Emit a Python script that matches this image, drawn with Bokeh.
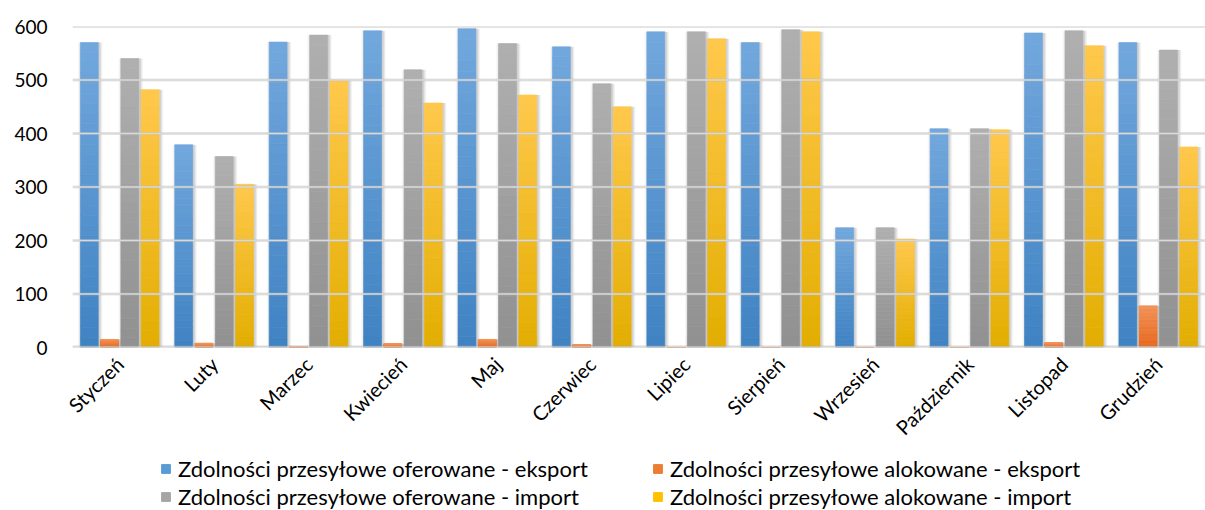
from bokeh.plotting import figure
from bokeh.layouts import column
from bokeh.models import (ColumnDataSource, FactorRange, Range1d, Legend, LegendItem,
                          FixedTicker, Span)
from bokeh.transform import dodge
from bokeh.embed import file_html
from bokeh.resources import INLINE
import math

months = ["Styczeń", "Luty", "Marzec", "Kwiecień", "Maj", "Czerwiec", "Lipiec",
          "Sierpień", "Wrzesień", "Październik", "Listopad", "Grudzień"]

offered_export = [570, 379, 571, 592, 596, 562, 590, 570, 224, 409, 588, 570]
allocated_export = [15, 8, 2, 7, 15, 5, 0, 0, 0, 0, 9, 78]
offered_import = [540, 357, 584, 519, 568, 493, 590, 594, 224, 409, 592, 556]
allocated_import = [482, 305, 500, 457, 472, 450, 577, 590, 203, 407, 564, 375]

y_ticks = [0, 100, 200, 300, 400, 500, 600]

labels = ["Zdolności przesyłowe oferowane - eksport",
          "Zdolności przesyłowe alokowane - eksport",
          "Zdolności przesyłowe oferowane - import",
          "Zdolności przesyłowe alokowane - import"]

# (bottom colour, top colour) of the vertical gradient on each series
gradients = [("#3f82c3", "#72a8dd"),
             ("#e8661a", "#f39257"),
             ("#909090", "#b0b0b0"),
             ("#e3ae00", "#ffc84c")]
legend_colors = ["#5b9bd5", "#ed7d31", "#a5a5a5", "#ffc000"]

series = [offered_export, allocated_export, offered_import, allocated_import]
offsets = [-0.322, -0.107, 0.107, 0.322]
BAR_W = 0.19
SLICES = 30
FONT = "Lato"


def mix(c0, c1, t):
    a = [int(c0[i:i + 2], 16) for i in (1, 3, 5)]
    b = [int(c1[i:i + 2], 16) for i in (1, 3, 5)]
    return "#%02x%02x%02x" % tuple(round(a[j] + (b[j] - a[j]) * t) for j in range(3))


p = figure(width=1205, height=450, output_backend="svg", toolbar_location=None,
           x_range=FactorRange(*months, range_padding=0),
           y_range=Range1d(0, 600),
           min_border_left=72, min_border_right=0, min_border_top=26,
           min_border_bottom=101)
p.outline_line_color = None
p.background_fill_color = "white"
p.border_fill_color = "white"

# grid lines with a soft shadow underneath
p.xgrid.grid_line_color = None
p.ygrid.grid_line_color = None
for t in y_ticks[1:]:
    p.add_layout(Span(location=t, dimension="width", line_color="#b8b8b8",
                      line_alpha=0.35, line_width=3))
    p.add_layout(Span(location=t, dimension="width", line_color="#d9d9d9",
                      line_width=1.5))

# soft drop shadows behind the bars
for s_idx, vals in enumerate(series):
    src = ColumnDataSource(dict(month=months, top=vals))
    for dx, extra, a in [(0.010, 0.07, 0.03), (0.012, 0.05, 0.04),
                         (0.014, 0.03, 0.05), (0.016, 0.01, 0.06)]:
        p.vbar(x=dodge("month", offsets[s_idx] + dx, range=p.x_range), top="top",
               bottom=0, width=BAR_W + extra, source=src, fill_color="black",
               fill_alpha=a, line_color=None)

for s_idx, vals in enumerate(series):
    c0, c1 = gradients[s_idx]
    xs, bots, tops, cols = [], [], [], []
    for m, v in zip(months, vals):
        for k in range(SLICES):
            xs.append(m)
            bots.append(v * k / SLICES)
            tops.append(v * (k + 1) / SLICES)
            cols.append(mix(c0, c1, (k + 0.5) / SLICES))
    src = ColumnDataSource(dict(month=xs, bottom=bots, top=tops, color=cols))
    p.vbar(x=dodge("month", offsets[s_idx], range=p.x_range), top="top",
           bottom="bottom", width=BAR_W, source=src, fill_color="color",
           line_color="color", line_width=0.6)

# baseline
p.add_layout(Span(location=0, dimension="width", line_color="#a0a0a0",
                  line_alpha=0.4, line_width=4))
p.add_layout(Span(location=0, dimension="width", line_color="#d9d9d9",
                  line_width=2))

p.yaxis.ticker = FixedTicker(ticks=y_ticks)
p.yaxis.axis_line_color = None
p.yaxis.major_tick_line_color = None
p.yaxis.minor_tick_line_color = None
p.yaxis.major_label_text_font = FONT
p.yaxis.major_label_text_font_size = "19px"
p.yaxis.major_label_text_color = "black"
p.yaxis.major_label_standoff = 19

p.xaxis.axis_line_color = None
p.xaxis.major_tick_line_color = None
p.xaxis.minor_tick_line_color = None
p.xaxis.major_label_orientation = math.pi / 4
p.xaxis.major_label_text_font = FONT
p.xaxis.major_label_text_font_size = "20px"
p.xaxis.major_label_text_color = "black"
p.xaxis.major_label_standoff = 7

# legend strip under the chart: two rows of two entries
# (positions are relative to the strip's frame, which lines up with the chart's frame)
lg_fig = figure(width=1205, height=60, output_backend="svg", toolbar_location=None,
                x_range=Range1d(0, 1), y_range=Range1d(0, 1),
                x_axis_location=None, y_axis_location=None,
                min_border_left=0, min_border_right=0, min_border_top=0,
                min_border_bottom=0)
lg_fig.outline_line_color = None
lg_fig.xgrid.grid_line_color = None
lg_fig.ygrid.grid_line_color = None

legend_pos = [(88, 28), (580, 28), (88, 0), (580, 0)]
for i in range(4):
    key = lg_fig.vbar(x=[5], top=[1], width=0.1, fill_color=legend_colors[i],
                      line_color=legend_colors[i])
    lg = Legend(items=[LegendItem(label=labels[i], renderers=[key])],
                location=legend_pos[i], orientation="horizontal",
                label_text_font=FONT, label_text_font_size="22px",
                label_text_color="black", glyph_width=11, glyph_height=11,
                label_standoff=7, padding=0, margin=0, spacing=0,
                border_line_color=None, background_fill_alpha=0,
                label_height=24)
    lg_fig.add_layout(lg)

layout = column(p, lg_fig, spacing=0)
open("out.html", "w").write(file_html(layout, INLINE))
